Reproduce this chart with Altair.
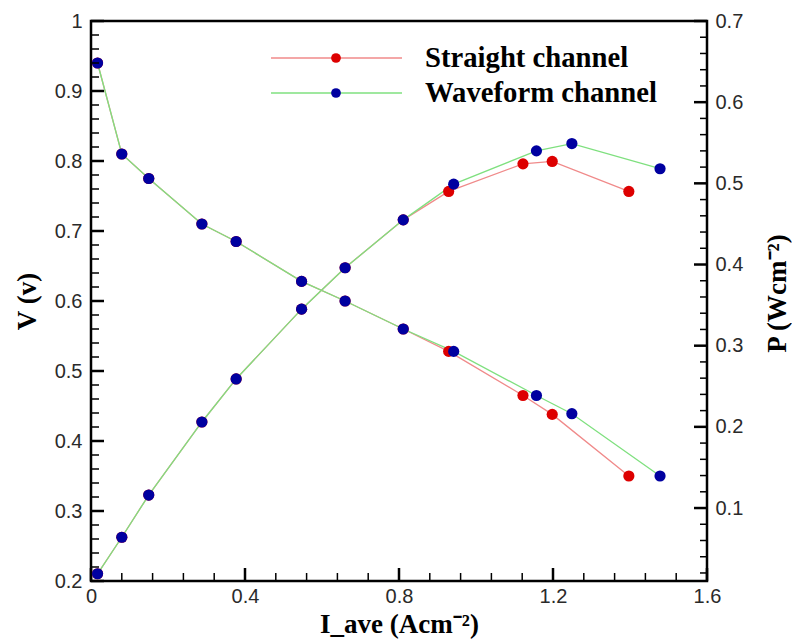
import altair as alt
import pandas as pd

# ---- data ----
series_names = ["Straight channel", "Waveform channel"]

straight_I = [0.017, 0.080, 0.150, 0.288, 0.377, 0.547, 0.660, 0.811, 0.929, 1.122, 1.198, 1.397]
straight_V = [0.940, 0.810, 0.775, 0.710, 0.685, 0.628, 0.600, 0.560, 0.528, 0.465, 0.438, 0.350]
straight_P = [0.019, 0.064, 0.116, 0.206, 0.259, 0.345, 0.396, 0.455, 0.490, 0.524, 0.527, 0.490]

waveform_I = [0.017, 0.080, 0.150, 0.288, 0.377, 0.547, 0.660, 0.811, 0.942, 1.157, 1.249, 1.478]
waveform_V = [0.940, 0.810, 0.775, 0.710, 0.685, 0.628, 0.600, 0.560, 0.528, 0.465, 0.439, 0.350]
waveform_P = [0.019, 0.064, 0.116, 0.206, 0.259, 0.345, 0.396, 0.455, 0.499, 0.540, 0.549, 0.518]

# tick values
x_major = [0, 0.4, 0.8, 1.2, 1.6]
x_minor = [round(i * 0.08, 2) for i in range(21) if i % 5]
v_major = [0.2, 0.3, 0.4, 0.5, 0.6, 0.7, 0.8, 0.9, 1.0]
v_minor = [round(0.2 + 0.02 * i, 2) for i in range(41) if i % 5]
p_major = [0.1, 0.2, 0.3, 0.4, 0.5, 0.6, 0.7]
p_minor = [round(0.02 * i, 2) for i in range(1, 35) if i % 5]

# ---- styling ----
W, H = 616, 560
line_colors = ["#f08a8a", "#7fe07f"]
point_colors = ["#dd0000", "#0000a0"]
SANS = "Liberation Sans"
SERIF = "Liberation Serif"

df_s = pd.DataFrame({"I": straight_I, "V": straight_V, "P": straight_P})
df_w = pd.DataFrame({"I": waveform_I, "V": waveform_V, "P": waveform_P})
series_dfs = [df_s, df_w]

x_scale = alt.Scale(domain=[0, 1.6], nice=False, zero=False)
v_scale = alt.Scale(domain=[0.2, 1.0], nice=False, zero=False)
p_scale = alt.Scale(domain=[0.0101, 0.7], nice=False, zero=False)

common_axis = dict(ticks=False, domain=False, grid=False, labelFont=SANS, labelFontSize=20,
                   labelColor="#2a2a2a", labelFlush=False, titleFont=SERIF, titleFontSize=27,
                   titleFontWeight="bold", titleColor="black", format=".1~f")

x_axis = alt.Axis(values=x_major, labelPadding=5, title="I_ave (Acm\u207b\u00b2)",
                  titleX=308, titleY=51, titleBaseline="alphabetic", titleAlign="center",
                  **common_axis)
v_axis = alt.Axis(values=v_major, orient="left", labelPadding=9, title="V (v)",
                  titleAngle=270, titleX=-56, titleY=280, titleBaseline="alphabetic",
                  titleAlign="center", **common_axis)
p_axis = alt.Axis(values=p_major, orient="right", labelPadding=8, title="P (Wcm\u207b\u00b2)",
                  titleAngle=270, titleX=78, titleY=272, titleBaseline="alphabetic",
                  titleAlign="center", **common_axis)


def X(field="I"):
    return alt.X(f"{field}:Q", scale=x_scale, axis=x_axis)


def curve_layers(yfield, scale, axis):
    lines = [
        alt.Chart(d).mark_line(color=c, strokeWidth=1.3).encode(
            x=X(), y=alt.Y(f"{yfield}:Q", scale=scale, axis=axis))
        for d, c in zip(series_dfs, line_colors)
    ]
    pts = [
        alt.Chart(d).mark_circle(color=c, size=125, opacity=1).encode(
            x=X(), y=alt.Y(f"{yfield}:Q", scale=scale, axis=axis))
        for d, c in zip(series_dfs, point_colors)
    ]
    return lines + pts


def ytick_layer(vals, scale, axis, x0, x1, sw):
    return alt.Chart(pd.DataFrame({"v": vals})).mark_rule(color="black", strokeWidth=sw).encode(
        y=alt.Y("v:Q", scale=scale, axis=axis), x=alt.value(x0), x2=alt.value(x1))


def xtick_layer(vals, y1, sw):
    return alt.Chart(pd.DataFrame({"v": vals})).mark_rule(color="black", strokeWidth=sw).encode(
        x=X("v"), y=alt.value(H), y2=alt.value(y1))


# legend (manual, to match the reference look)
legend_layers = []
legend_y = [37, 72]
for name, lc, pc, ly in zip(series_names, line_colors, point_colors, legend_y):
    ld = pd.DataFrame({"name": [name]})
    legend_layers += [
        alt.Chart(ld).mark_rule(color=lc, strokeWidth=1.3).encode(
            x=alt.value(180), x2=alt.value(311), y=alt.value(ly)),
        alt.Chart(ld).mark_circle(color=pc, size=95, opacity=1).encode(
            x=alt.value(245), y=alt.value(ly)),
        alt.Chart(ld).mark_text(align="left", baseline="middle", font=SERIF, fontSize=28.7,
                                fontWeight="bold", color="black").encode(
            x=alt.value(334), y=alt.value(ly), text="name:N"),
    ]

left = alt.layer(
    *curve_layers("V", v_scale, v_axis),
    ytick_layer(v_major, v_scale, v_axis, 0, 13, 2.5),
    ytick_layer(v_minor, v_scale, v_axis, 0, 8, 1.5),
    xtick_layer(x_major, H - 13, 2.5),
    xtick_layer(x_minor, H - 8, 1.5),
    *legend_layers,
)

right = alt.layer(
    *curve_layers("P", p_scale, p_axis),
    ytick_layer(p_major, p_scale, p_axis, W, W - 13, 2.5),
    ytick_layer(p_minor, p_scale, p_axis, W, W - 7, 1.5),
)

chart = alt.layer(left, right).resolve_scale(y="independent").properties(
    width=W, height=H,
    padding={"left": 91, "top": 21, "right": 85, "bottom": 60},
    autosize=alt.AutoSizeParams(type="none"),
    background="white",
).configure_view(stroke="black", strokeWidth=2.5)

chart.save("out.html", embed_options={"renderer": "svg", "actions": False})
